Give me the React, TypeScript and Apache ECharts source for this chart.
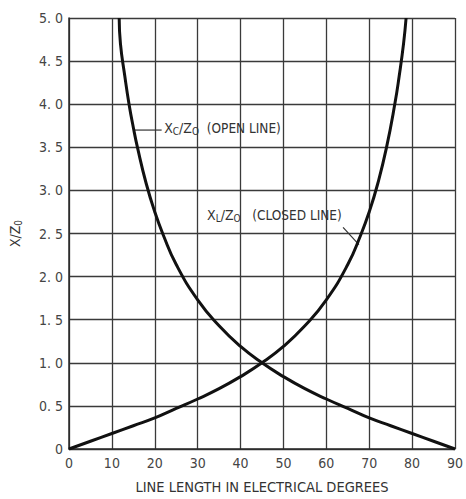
import React, { useEffect, useRef } from "react";
import * as echarts from "echarts";

const xTicks = [0, 10, 20, 30, 40, 50, 60, 70, 80, 90];
const yTicks = [0, 0.5, 1.0, 1.5, 2.0, 2.5, 3.0, 3.5, 4.0, 4.5, 5.0];

const openDeg = [11.7, 12, 13, 14, 15, 16, 18, 20, 22, 25, 30, 35, 40, 45, 50, 55, 60, 65, 70, 75, 80, 85, 90];
const openVal = [5.0, 4.7, 4.33, 4.0, 3.73, 3.49, 3.08, 2.75, 2.48, 2.14, 1.73, 1.43, 1.19, 1.0, 0.84, 0.7, 0.58, 0.47, 0.36, 0.27, 0.18, 0.09, 0.0];

const closedDeg = [0, 5, 10, 15, 20, 25, 30, 35, 40, 45, 50, 55, 60, 65, 68, 70, 72, 74, 76, 77, 78, 78.6];
const closedVal = [0.0, 0.09, 0.18, 0.27, 0.36, 0.47, 0.58, 0.7, 0.84, 1.0, 1.19, 1.43, 1.73, 2.14, 2.48, 2.75, 3.08, 3.49, 4.01, 4.33, 4.7, 5.0];

const FONT = "'DejaVu Sans Condensed', 'Liberation Sans Narrow', 'Liberation Sans', sans-serif";
const TXT = "#333";

export default function App() {
  const ref = useRef<HTMLDivElement>(null);
  useEffect(() => {
    if (!ref.current) return;
    const chart = echarts.init(ref.current, undefined, { renderer: "svg" });
    const gridLine = { show: true, lineStyle: { color: "#3a3a3a", width: 1.3 } };
    const option: any = {
      animation: false,
      backgroundColor: "#fff",
      grid: { left: 66, right: 6, top: 18, bottom: 44 },
      xAxis: {
        type: "value",
        min: 0,
        max: 90,
        interval: 10,
        name: "LINE LENGTH IN ELECTRICAL DEGREES",
        nameLocation: "middle",
        nameGap: 30,
        nameTextStyle: { fontFamily: FONT, fontSize: 14.5, color: TXT },
        axisLine: { show: true, lineStyle: { color: "#2a2a2a", width: 1.5 } },
        axisTick: { show: false },
        axisLabel: { fontFamily: FONT, fontSize: 14, color: "#444", margin: 7, formatter: (v: number) => (xTicks.includes(v) ? String(v) : "") },
        splitLine: gridLine,
      },
      yAxis: {
        type: "value",
        min: 0,
        max: 5,
        interval: 0.5,
        name: "{m|X/Z}{s|0}",
        nameLocation: "middle",
        nameGap: 46,
        nameRotate: 90,
        nameTextStyle: {
          fontFamily: FONT,
          color: TXT,
          rich: {
            m: { fontFamily: FONT, fontSize: 14, color: TXT },
            s: { fontFamily: FONT, fontSize: 10, color: TXT, padding: [6, 0, 0, 0] },
          },
        },
        axisLine: { show: true, lineStyle: { color: "#2a2a2a", width: 1.5 } },
        axisTick: { show: false },
        axisLabel: {
          fontFamily: FONT,
          fontSize: 14,
          color: "#444",
          margin: 6,
          formatter: (v: number) => {
            const m = yTicks.find((t) => Math.abs(t - v) < 1e-6);
            if (m === undefined) return "";
            return m === 0 ? "0" : m.toFixed(1).replace(".", ". ");
          },
        },
        splitLine: gridLine,
      },
      series: [
        {
          type: "line",
          smooth: true,
          symbol: "none",
          data: openDeg.map((d, i) => [d, openVal[i]]),
          lineStyle: { color: "#111", width: 3 },
          clip: true,
        },
        {
          type: "line",
          smooth: true,
          symbol: "none",
          data: closedDeg.map((d, i) => [d, closedVal[i]]),
          lineStyle: { color: "#111", width: 3 },
          clip: true,
        },
      ],
    };
    chart.setOption(option);

    const p = (x: number, y: number) => chart.convertToPixel({ gridIndex: 0 }, [x, y]) as number[];
    const a1 = p(15.3, 3.7);
    const a2 = p(21.6, 3.7);
    const t1 = p(22.2, 3.72);
    const b1 = p(63.9, 2.57);
    const b2 = p(67.6, 2.37);
    const t2 = p(32.2, 2.72);
    const rich = {
      m: { fontFamily: FONT, fontSize: 14, fill: TXT },
      s: { fontFamily: FONT, fontSize: 10, fill: TXT, padding: [7, 0, 0, 0] },
      g: { fontFamily: FONT, fontSize: 13.5, fill: TXT },
    };
    chart.setOption({
      graphic: [
        { type: "line", shape: { x1: a1[0], y1: a1[1], x2: a2[0], y2: a2[1] }, style: { stroke: "#333", lineWidth: 1.2 } },
        {
          type: "text",
          x: t1[0],
          y: t1[1],
          style: { text: "{m|X}{s|C}{m|/Z}{s|O}{g|  (OPEN LINE)}", rich, verticalAlign: "middle", align: "left", fill: TXT },
        },
        { type: "line", shape: { x1: b1[0], y1: b1[1], x2: b2[0], y2: b2[1] }, style: { stroke: "#333", lineWidth: 1.2 } },
        {
          type: "text",
          x: t2[0],
          y: t2[1],
          style: { text: "{m|X}{s|L}{m|/Z}{s|O}{g|   (CLOSED LINE)}", rich, verticalAlign: "middle", align: "left", fill: TXT },
        },
      ],
    });
    return () => chart.dispose();
  }, []);
  return <div ref={ref} style={{ position: "fixed", left: 0, top: 0, width: 466, height: 499 }} />;
}
